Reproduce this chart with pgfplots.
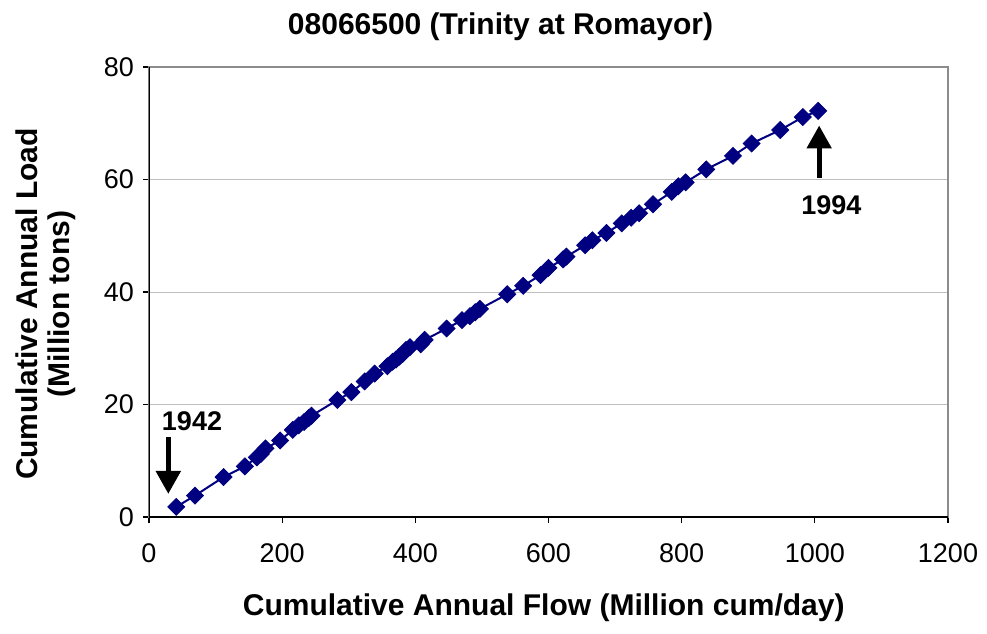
\documentclass[border=0pt]{standalone}
\usepackage{fontspec}
\setmainfont{Liberation Sans}
\usepackage{pgfplots}
\pgfplotsset{compat=1.18}
\usetikzlibrary{arrows.meta}
\definecolor{navy}{RGB}{0,0,128}
\pgfplotstableread{
x y
41 1.8
69 3.8
112 7.1
144 9.0
162 10.6
168 11.2
175 12.2
197 13.6
216 15.5
225 16.3
233 16.9
240 17.6
244 18.0
283 20.8
304 22.2
324 24.1
339 25.5
358 26.8
366 27.6
371 28.0
376 28.5
381 29.0
386 29.7
392 30.2
408 30.7
414 31.5
447 33.5
470 35.0
482 35.7
490 36.4
497 37.0
538 39.6
562 41.1
588 43.0
600 44.3
622 45.8
627 46.3
655 48.3
666 49.2
687 50.5
710 52.2
724 53.2
736 54.0
757 55.6
785 57.8
795 58.8
806 59.5
837 61.8
877 64.2
905 66.4
948 68.8
982 71.1
1005 72.2
}\datatable
\begin{document}
\begin{tikzpicture}
\begin{axis}[
  scale only axis, width=399.5pt, height=225pt,
  at={(0,0)}, anchor=south west,
  xmin=0, xmax=1200, ymin=0, ymax=80,
  xtick={0,200,...,1200}, ytick={0,20,...,80},
  tick align=outside, xtick pos=left, ytick pos=left,
  major tick length=3pt,
  tick style={black, line width=0.6pt},
  ymajorgrids, grid style={color=black!25, line width=0.5pt},
  axis line style={draw=black!45, line width=1pt},
  /pgf/number format/assume math mode=true,
  /pgf/number format/1000 sep={},
  ticklabel style={font=\fontsize{13.5}{16}\selectfont},
  xticklabel style={yshift=-7pt},
  yticklabel style={xshift=-1pt},
  title={08066500 (Trinity at Romayor)},
  title style={font=\bfseries\fontsize{15}{17}\selectfont, at={(axis description cs:0.44,1.093)}, anchor=center, yshift=-7pt},
  xlabel={Cumulative Annual Flow (Million cum/day)},
  xlabel style={font=\bfseries\fontsize{15}{17}\selectfont, at={(axis description cs:0.494,-0.2022)}, anchor=center},
  ylabel={Cumulative Annual Load\\(Million tons)},
  ylabel style={font=\bfseries\fontsize{15}{16}\selectfont, align=center, at={(axis description cs:-0.129,0.473)}, anchor=center},
]
\addplot[navy, line width=1pt, mark=square*, mark size=3pt,
  mark options={rotate=45, fill=navy, draw=navy, line width=0.4pt}] table[x=x,y=y] {\datatable};
\draw[black, line width=0.8pt] (rel axis cs:0,1) -- (rel axis cs:0,0) -- (rel axis cs:1,0);
\draw[line width=2.6pt, -{Triangle[width=12pt,length=11.5pt]}] (axis cs:29,14.2) -- (axis cs:29,4.1);
\draw[line width=2.6pt, -{Triangle[width=12pt,length=11.5pt]}] (axis cs:1006.5,60.3) -- (axis cs:1006.5,69.6);
\node[font=\bfseries\fontsize{13.5}{16}\selectfont] at (axis cs:64.6,17.1) {1942};
\node[font=\bfseries\fontsize{13.5}{16}\selectfont] at (axis cs:1025,55.5) {1994};
\end{axis}
\pgfresetboundingbox
\path[use as bounding box] (-74.5pt,-58pt) rectangle (419pt,258.5pt);
\end{tikzpicture}
\end{document}
